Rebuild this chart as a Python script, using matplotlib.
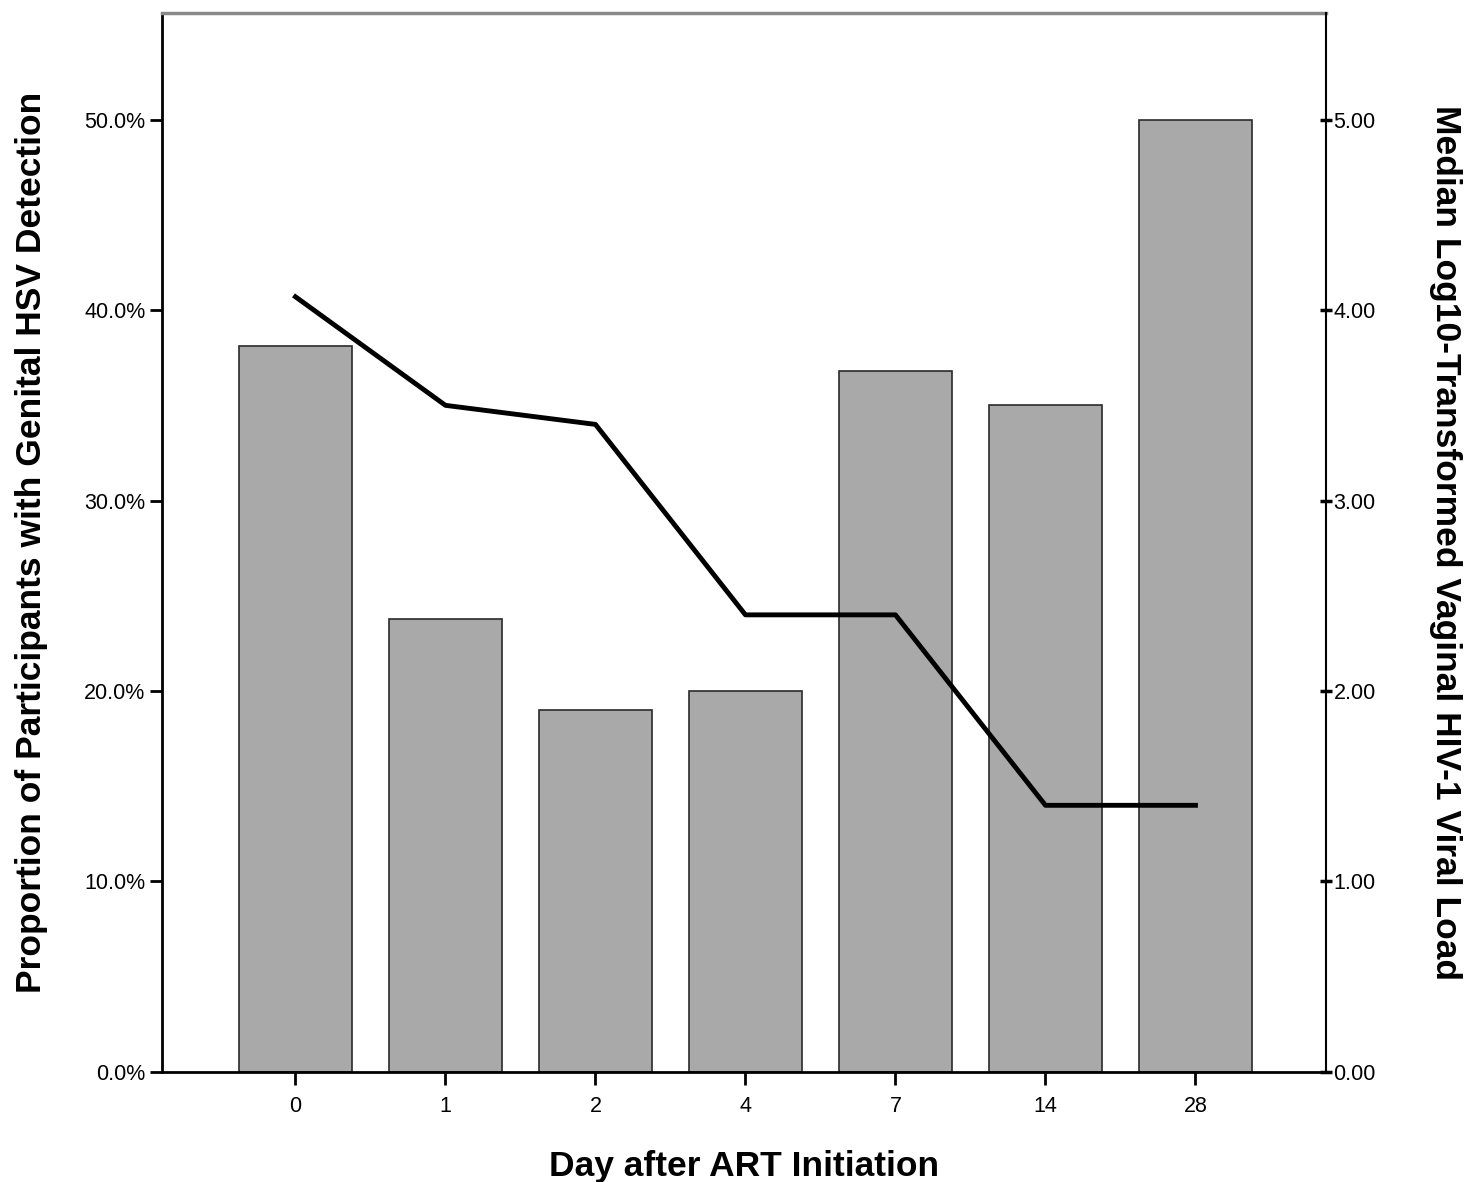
import matplotlib
matplotlib.use("Agg")
import matplotlib.pyplot as plt
from matplotlib.ticker import FuncFormatter

days = ["0", "1", "2", "4", "7", "14", "28"]
hsv_pct = [38.1, 23.8, 19.0, 20.0, 36.8, 35.0, 50.0]
viral_load = [4.07, 3.50, 3.40, 2.40, 2.40, 1.40, 1.40]

plt.rcParams['font.family'] = ['Liberation Sans', 'DejaVu Sans']

fig = plt.figure(figsize=(14.71, 11.82), dpi=100)
ax = fig.add_axes([0.1101, 0.0931, 0.7913, 0.8959])
x = list(range(len(days)))
ax.bar(x, hsv_pct, width=0.75, color='#a9a9a9', edgecolor='#2a2a2a', linewidth=1.2, zorder=2)
ax.set_xlim(-0.89, 6.87)
ax.set_ylim(0, 55.6)
ax.set_yticks([0, 10, 20, 30, 40, 50])
ax.yaxis.set_major_formatter(FuncFormatter(lambda v, p: f"{v:.1f}%"))
ax.set_xticks(x)
ax.set_xticklabels(days)
ax.tick_params(axis='both', labelsize=15.5, length=9, width=2, direction='out', color='black', pad=3)
ax.tick_params(axis='x', pad=8)
ax.set_xlabel("Day after ART Initiation", fontsize=25.5, fontweight='bold', labelpad=24)
ax.set_ylabel("Proportion of Participants with Genital HSV Detection", fontsize=25.5, fontweight='bold', labelpad=26)
for s in ['left', 'bottom']:
    ax.spines[s].set_linewidth(2)
    ax.spines[s].set_color('black')
ax.spines['top'].set_color('#888888')
ax.spines['top'].set_linewidth(2.5)
ax.spines['right'].set_visible(False)

ax2 = ax.twinx()
ax2.plot(x, viral_load, color='black', linewidth=3.5, zorder=3)
ax2.set_ylim(0, 5.56)
ax2.set_yticks([0, 1, 2, 3, 4, 5])
ax2.yaxis.set_major_formatter(FuncFormatter(lambda v, p: f"{v:.2f}"))
ax2.tick_params(axis='y', labelsize=15.5, length=9, width=2.5, direction='inout', pad=1)
ax2.spines['right'].set_linewidth(1.5)
ax2.spines['right'].set_color('black')
for s in ['top', 'left', 'bottom']:
    ax2.spines[s].set_visible(False)
ax2.set_ylabel("Median Log10-Transformed Vaginal HIV-1 Viral Load", fontsize=25.5, fontweight='bold',
               rotation=-90, labelpad=62)

fig.savefig("out.png", dpi=100)
